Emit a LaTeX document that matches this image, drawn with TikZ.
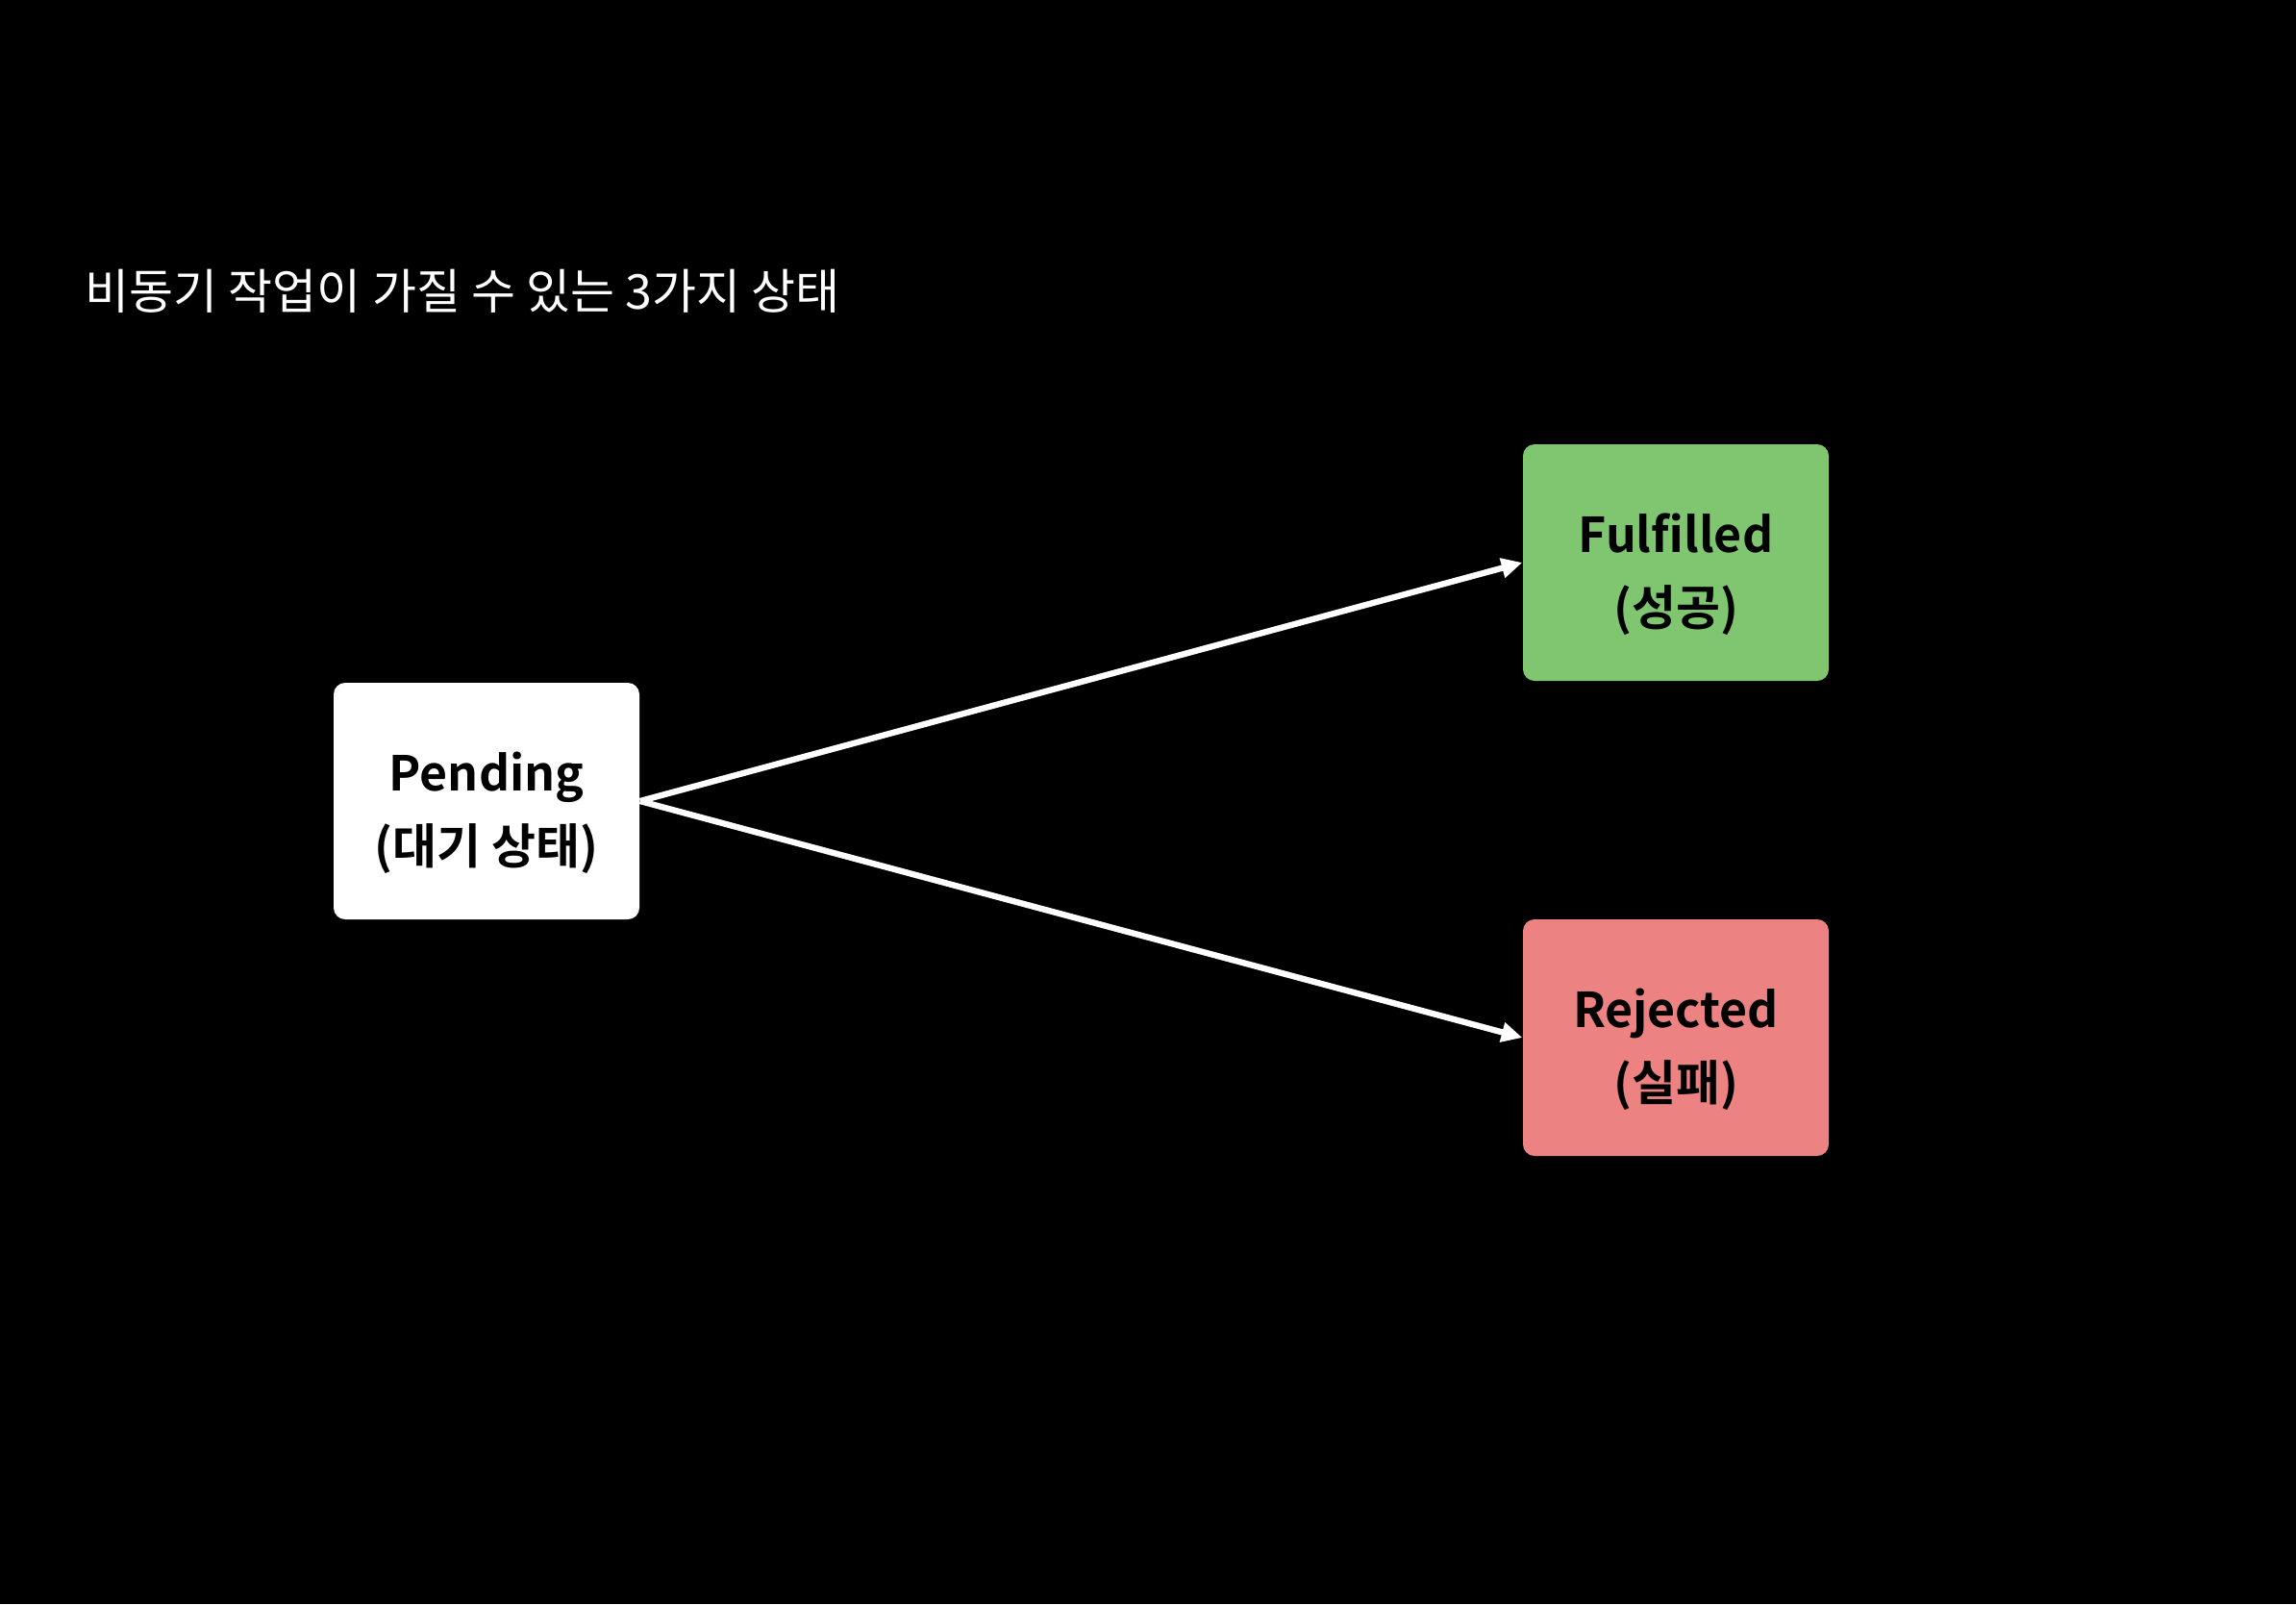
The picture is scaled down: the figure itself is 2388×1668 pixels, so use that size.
\documentclass[tikz,border=0pt]{standalone}
\usepackage{fontspec}
\usetikzlibrary{arrows.meta}
\newfontfamily\titlefont{Noto Sans CJK KR}
\newfontfamily\boxfont{Noto Sans CJK KR Bold}
\definecolor{okgreen}{HTML}{80C671}
\definecolor{badred}{HTML}{EC8282}
\tikzset{
  statebox/.style={rounded corners=3.6pt, minimum width=95.4pt, minimum height=73.8pt,
    inner sep=0pt},
  statetext/.style={align=center, text=black, inner sep=0pt, yshift=-3.6pt,
    font=\boxfont\fontsize{15}{22.8}\selectfont},
  flow/.style={draw=white, line width=1.9pt, -{Triangle[length=6.5pt,width=6pt]}}
}
\begin{document}
\begin{tikzpicture}[x=0.3pt,y=-0.3pt]
\fill[black] (0,0) rectangle (2388,1668);
\useasboundingbox (0,0) rectangle (2388,1668);
\node[anchor=base west, text=white, inner sep=0pt, font=\titlefont\fontsize{15}{18}\selectfont] (title) at (88,321) {비동기 작업이 가질 수 있는 3가지 상태};
\node[statebox, fill=white, label={[statetext]center:Pending\\(대기 상태)}] (pending) at (506,833) {};
\node[statebox, fill=okgreen, label={[statetext]center:Fulfilled\\(성공)}] (ful) at (1743,585) {};
\node[statebox, fill=badred, label={[statetext]center:Rejected\\(실패)}] (rej) at (1743,1079) {};
\draw[flow] (pending.east) -- (ful.west);
\draw[flow] (pending.east) -- (rej.west);
\end{tikzpicture}
\end{document}
